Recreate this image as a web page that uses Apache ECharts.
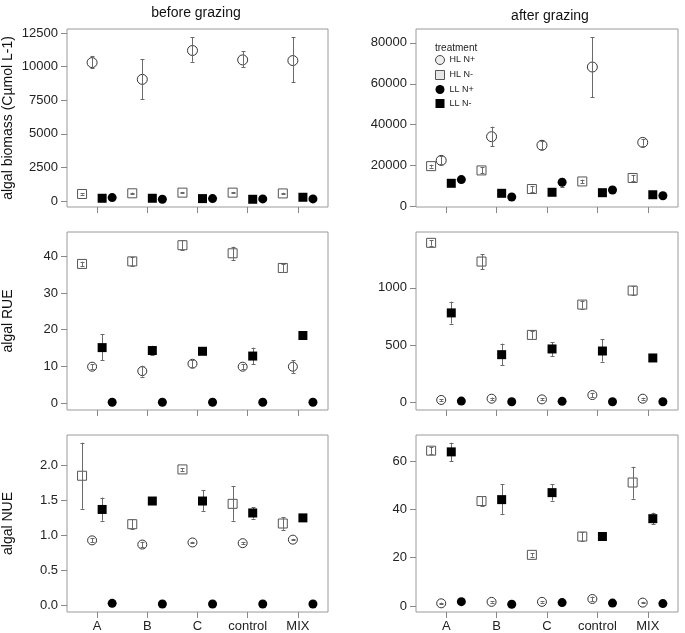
<!DOCTYPE html>
<html><head><meta charset="utf-8">
<script src="https://cdn.jsdelivr.net/npm/echarts@6/dist/echarts.min.js"></script>
<style>html,body{margin:0;padding:0;background:#fff}#c{width:685px;height:633px}</style>
</head><body><div id="c"></div>
<script>
// ---------- data ----------
const categories = ['A', 'B', 'C', 'control', 'MIX'];
const treatments = ['HL N+', 'HL N-', 'LL N+', 'LL N-'];
const colTitles = ['before grazing', 'after grazing'];
const rowTitles = ['algal biomass (Cµmol L-1)', 'algal RUE', 'algal NUE'];

// before grazing – algal biomass
const bioB_HLNp = [10300, 9050, 11200, 10500, 10450];
const bioB_HLNp_err = [[9880, 10800], [7580, 10560], [10360, 12180], [9940, 11130], [8850, 12200]];
const bioB_HLNm = [520, 570, 620, 620, 560];
const bioB_HLNm_err = [[470, 570], [520, 620], [570, 670], [570, 670], [510, 610]];
const bioB_LLNp = [250, 125, 175, 150, 150];
const bioB_LLNm = [200, 200, 175, 125, 275];
// after grazing – algal biomass
const bioA_HLNp = [22500, 34100, 29900, 68200, 31300];
const bioA_HLNp_err = [[20500, 24500], [29400, 39000], [28000, 31800], [53500, 82900], [29700, 33000]];
const bioA_HLNm = [19700, 17600, 8500, 12200, 13900];
const bioA_HLNm_err = [[19000, 20400], [16100, 19100], [7000, 10000], [11300, 13100], [12400, 15400]];
const bioA_LLNp = [13100, 4600, 11800, 8000, 5200];
const bioA_LLNp_err = [[12300, 13900], [4100, 5100], [9600, 14000], [7300, 8700], [4700, 5700]];
const bioA_LLNm = [11300, 6400, 6900, 6700, 5700];

// before grazing – RUE
const rueB_HLNp = [9.9, 8.7, 10.7, 9.9, 9.9];
const rueB_HLNp_err = [[9.3, 10.5], [7.2, 10.2], [9.7, 11.7], [9.3, 10.5], [8.2, 11.6]];
const rueB_HLNm = [37.9, 38.6, 43.0, 40.8, 36.8];
const rueB_HLNm_err = [[37.3, 38.5], [37.4, 39.8], [41.7, 44.3], [39.0, 42.6], [35.6, 38.0]];
const rueB_LLNp = [0.2, 0.2, 0.2, 0.2, 0.2];
const rueB_LLNm = [15.1, 14.3, 14.1, 12.8, 18.4];
const rueB_LLNm_err = [[11.6, 18.7], [13.0, 15.6], [13.6, 14.6], [10.6, 15.1], [17.9, 18.9]];
// after grazing – RUE
const rueA_HLNp = [18, 29, 23, 61, 29];
const rueA_HLNp_err = [[10, 26], [19, 39], [15, 31], [41, 81], [21, 37]];
const rueA_HLNm = [1395, 1231, 588, 854, 977];
const rueA_HLNm_err = [[1370, 1420], [1166, 1296], [553, 623], [819, 889], [937, 1017]];
const rueA_LLNp = [8, 2, 6, 2, 2];
const rueA_LLNm = [781, 415, 465, 447, 386];
const rueA_LLNm_err = [[687, 880], [322, 512], [404, 526], [354, 550], [375, 397]];

// before grazing – NUE
const nueB_HLNp = [0.93, 0.87, 0.90, 0.89, 0.94];
const nueB_HLNp_err = [[0.90, 0.96], [0.83, 0.91], [0.89, 0.91], [0.88, 0.90], [0.93, 0.95]];
const nueB_HLNm = [1.85, 1.16, 1.94, 1.45, 1.17];
const nueB_HLNm_err = [[1.38, 2.32], [1.09, 1.23], [1.92, 1.96], [1.21, 1.70], [1.08, 1.26]];
const nueB_LLNp = [0.033, 0.024, 0.024, 0.024, 0.024];
const nueB_LLNm = [1.37, 1.49, 1.49, 1.32, 1.25];
const nueB_LLNm_err = [[1.21, 1.54], [1.47, 1.51], [1.35, 1.64], [1.24, 1.40], [1.22, 1.28]];
// after grazing – NUE
const nueA_HLNp = [1.1, 1.7, 1.7, 2.9, 1.4];
const nueA_HLNp_err = [[0.8, 1.4], [1.4, 2.0], [1.4, 2.0], [1.9, 3.9], [1.1, 1.7]];
const nueA_HLNm = [64.4, 43.5, 21.2, 28.8, 51.2];
const nueA_HLNm_err = [[63.0, 65.8], [41.5, 45.5], [20.5, 21.9], [27.0, 30.6], [44.5, 57.7]];
const nueA_LLNp = [1.8, 0.7, 1.4, 1.2, 1.0];
const nueA_LLNm = [63.9, 44.1, 47.0, 28.8, 36.2];
const nueA_LLNm_err = [[60.1, 67.7], [38.2, 50.5], [43.7, 50.5], [28.3, 29.3], [33.9, 38.7]];

// y-axis tick labels per panel
const ticks_bioB = [0, 2500, 5000, 7500, 10000, 12500];
const ticks_bioA = [0, 20000, 40000, 60000, 80000];
const ticks_rueB = [0, 10, 20, 30, 40];
const ticks_rueA = [0, 500, 1000];
const ticks_nueB = [0, 0.5, 1.0, 1.5, 2.0];
const ticks_nueA = [0, 20, 40, 60];

// ---------- layout ----------
const panels = [
  {row: 0, col: 0, s: [bioB_HLNp, bioB_HLNm, bioB_LLNp, bioB_LLNm], e: [bioB_HLNp_err, bioB_HLNm_err, null, null], ticks: ticks_bioB, min: -450, max: 12800, dec: 0},
  {row: 0, col: 1, s: [bioA_HLNp, bioA_HLNm, bioA_LLNp, bioA_LLNm], e: [bioA_HLNp_err, bioA_HLNm_err, bioA_LLNp_err, null], ticks: ticks_bioA, min: -300, max: 86800, dec: 0},
  {row: 1, col: 0, s: [rueB_HLNp, rueB_HLNm, rueB_LLNp, rueB_LLNm], e: [rueB_HLNp_err, rueB_HLNm_err, null, rueB_LLNm_err], ticks: ticks_rueB, min: -1.9, max: 46.6, dec: 0},
  {row: 1, col: 1, s: [rueA_HLNp, rueA_HLNm, rueA_LLNp, rueA_LLNm], e: [rueA_HLNp_err, rueA_HLNm_err, null, rueA_LLNm_err], ticks: ticks_rueA, min: -70, max: 1490, dec: 0},
  {row: 2, col: 0, s: [nueB_HLNp, nueB_HLNm, nueB_LLNp, nueB_LLNm], e: [nueB_HLNp_err, nueB_HLNm_err, null, nueB_LLNm_err], ticks: ticks_nueB, min: -0.09, max: 2.43, dec: 1},
  {row: 2, col: 1, s: [nueA_HLNp, nueA_HLNm, nueA_LLNp, nueA_LLNm], e: [nueA_HLNp_err, nueA_HLNm_err, null, nueA_LLNm_err], ticks: ticks_nueA, min: -2.5, max: 70.9, dec: 0}
];
const gridLeft = [67, 416], gridWidth = [261, 262];
const gridTop = [29, 232, 435], gridHeight = [178, 178, 177];
const offsets = [-0.1, -0.3, 0.3, 0.1]; // HL N+, HL N-, LL N+, LL N-
const symbols = ['circle', 'rect', 'circle', 'rect'];
const hollow = [true, true, false, false];
const FONT = 'Liberation Sans, Arial, sans-serif';

const grids = [], xAxes = [], yAxes = [], series = [];
panels.forEach((p, i) => {
  grids.push({left: gridLeft[p.col], width: gridWidth[p.col], top: gridTop[p.row], height: gridHeight[p.row],
    show: true, borderColor: '#9a9a9a', borderWidth: 1, backgroundColor: 'transparent'});
  xAxes.push({type: 'value', gridIndex: i, min: -0.6, max: 4.6, position: 'bottom',
    axisLine: {show: false, onZero: false}, splitLine: {show: false},
    axisTick: {show: true, length: 6, lineStyle: {color: '#888'}, customValues: [0, 1, 2, 3, 4]},
    axisLabel: {show: p.row === 2, customValues: [0, 1, 2, 3, 4], formatter: v => categories[Math.round(v)],
      fontFamily: FONT, fontSize: 13, color: '#222', margin: 8}});
  yAxes.push({type: 'value', gridIndex: i, min: p.min, max: p.max, position: 'left',
    axisLine: {show: false, onZero: false}, splitLine: {show: false},
    axisTick: {show: true, length: 6, lineStyle: {color: '#888'}, customValues: p.ticks},
    axisLabel: {customValues: p.ticks, formatter: v => v.toFixed(p.dec), fontFamily: FONT, fontSize: 13, color: '#222', margin: 9},
    name: p.col === 0 ? rowTitles[p.row] : '', nameLocation: 'middle', nameRotate: 90, nameGap: 52,
    nameTextStyle: {fontFamily: FONT, fontSize: 14, color: '#111'}});
  // scatter series
  p.s.forEach((vals, k) => {
    series.push({type: 'scatter', name: treatments[k], xAxisIndex: i, yAxisIndex: i,
      symbol: symbols[k], symbolSize: (k === 0 && p.row === 0) ? 10 : 9,
      z: hollow[k] ? 2 : 4, silent: true,
      itemStyle: hollow[k] ? {color: '#fff', borderColor: k === 0 ? '#333' : '#555', borderWidth: 1, opacity: 1}
                           : {color: '#000', opacity: 1},
      data: vals.map((v, j) => [j + offsets[k], v])});
  });
  // error bars
  const ed = [];
  p.e.forEach((arr, k) => { if (arr) arr.forEach((r, j) => ed.push([j + offsets[k], r[0], r[1]])); });
  series.push({type: 'custom', xAxisIndex: i, yAxisIndex: i, z: 3, silent: true,
    encode: {x: 0, y: [1, 2]}, data: ed,
    renderItem: (params, api) => {
      const x = api.value(0);
      const a = api.coord([x, api.value(1)]), b = api.coord([x, api.value(2)]);
      const cx = Math.round(a[0]) + 0.5, w = 2;
      const st = {stroke: '#6a6a6a', lineWidth: 1};
      return {type: 'group', children: [
        {type: 'line', shape: {x1: cx, y1: a[1], x2: cx, y2: b[1]}, style: st},
        {type: 'line', shape: {x1: cx - w, y1: Math.round(a[1]) + 0.5, x2: cx + w, y2: Math.round(a[1]) + 0.5}, style: st},
        {type: 'line', shape: {x1: cx - w, y1: Math.round(b[1]) + 0.5, x2: cx + w, y2: Math.round(b[1]) + 0.5}, style: st}
      ]};
    }});
});

const chart = echarts.init(document.getElementById('c'), null, {renderer: 'canvas'});
chart.setOption({
  animation: false,
  backgroundColor: '#fff',
  title: [
    {text: colTitles[0], left: 191, top: 1, textAlign: 'center', textStyle: {fontFamily: FONT, fontSize: 14, fontWeight: 'normal', color: '#111'}},
    {text: colTitles[1], left: 545, top: 4, textAlign: 'center', textStyle: {fontFamily: FONT, fontSize: 14, fontWeight: 'normal', color: '#111'}},
    {text: 'treatment', left: 430, top: 38, textStyle: {fontFamily: FONT, fontSize: 10, fontWeight: 'normal', color: '#222'}}
  ],
  legend: {
    orient: 'vertical', left: 430, top: 50, itemWidth: 9, itemHeight: 9, itemGap: 5,
    textStyle: {fontFamily: FONT, fontSize: 9, color: '#222'}, selectedMode: false,
    data: [
      {name: 'HL N+', icon: 'circle', itemStyle: {color: '#eee', borderColor: '#444', borderWidth: 1}},
      {name: 'HL N-', icon: 'rect', itemStyle: {color: '#e6e6e6', borderColor: '#555', borderWidth: 1}},
      {name: 'LL N+', icon: 'circle', itemStyle: {color: '#000'}},
      {name: 'LL N-', icon: 'rect', itemStyle: {color: '#000'}}
    ]
  },
  grid: grids, xAxis: xAxes, yAxis: yAxes, series: series
});
</script></body></html>
